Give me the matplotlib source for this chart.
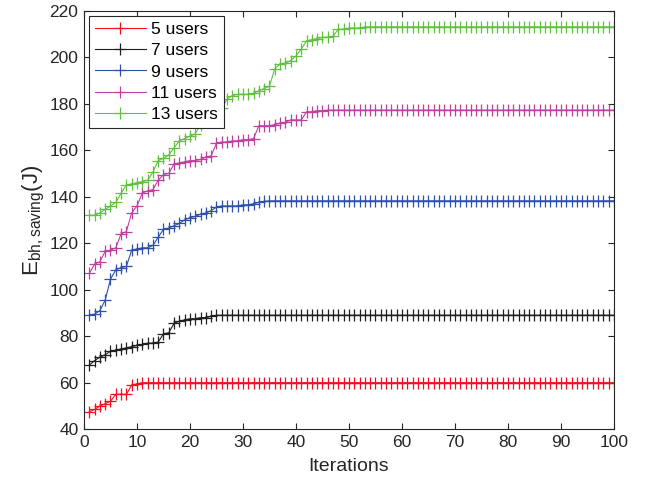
import numpy as np
import matplotlib
matplotlib.use("Agg")
import matplotlib.pyplot as plt

plt.rcParams['font.family'] = ['Liberation Sans', 'DejaVu Sans']
plt.rcParams['mathtext.fontset'] = 'custom'
plt.rcParams['mathtext.rm'] = 'Liberation Sans'
plt.rcParams['mathtext.it'] = 'Liberation Sans:italic'

# Dados
iteracoes = np.arange(1, 101)

users_5 = [47.5, 48.5, 50, 51, 52, 55, 55, 55, 59, 59.5] + [60] * 90

users_7 = [67.5, 69.5, 71, 72, 73.5, 74, 74.5, 75, 75.5, 76,
           76.5, 77, 77, 77.5, 81, 81.5, 85.5, 86.5, 87, 87.5,
           87.5, 88, 88, 88.5, 89] + [89] * 75

users_9 = [89, 89.5, 91, 95.5, 104.5, 108.5, 109.5, 110, 117, 117.5,
           118, 118, 119, 122.5, 126, 126.5, 127.5, 128.5, 130, 131,
           131.5, 132.5, 133, 134, 135.5, 136, 136, 136, 136, 136.5,
           136.5, 137, 137.5, 138] + [138.2] * 66

users_11 = [107, 111, 112, 116.5, 117, 118, 124, 125, 133, 136,
            141.5, 142.5, 143, 147, 149.5, 150, 154, 154.5, 155, 155.5,
            155.5, 156, 157, 157.5, 163, 163.5, 163.5, 164, 164, 164.5,
            164.5, 165, 170.5, 170.5, 170.5, 171, 171.5, 172, 173, 173,
            173, 176.5, 176.5, 177, 177] + [177.2] * 55

users_13 = [132, 132, 133, 134.5, 136, 137.5, 141.5, 145, 145.5, 146,
            146.5, 147, 150.5, 155.5, 156.5, 158, 161, 164, 165, 166,
            167, 171, 173.5, 177, 177.5, 178, 182, 183.5, 184, 184,
            184, 184.5, 185.5, 186.5, 187.5, 195, 197, 197.5, 198.5, 200.5,
            203.5, 207, 207.5, 208, 208.5, 208.5, 209, 212, 212, 212.5,
            212.5, 212.5] + [213] * 48

series = [users_5, users_7, users_9, users_11, users_13]
labels = ["5 users", "7 users", "9 users", "11 users", "13 users"]
cores = ["#F01020", "#202020", "#2F50A8", "#C040A0", "#60C040"]

cinza = "#262626"

fig = plt.figure(figsize=(6.49, 4.83), dpi=100)
ax = fig.add_axes([0.1294, 0.1114, 0.8166, 0.8666])

for y, lab, c in zip(series, labels, cores):
    ax.plot(iteracoes, y, color=c, linewidth=0.8, marker="+",
            markersize=8, markeredgewidth=0.9, label=lab)

ax.set_xlim(0, 100)
ax.set_ylim(40, 220)
ax.set_xticks(np.arange(0, 101, 10))
ax.set_yticks(np.arange(40, 221, 20))
ax.tick_params(direction="in", top=True, right=True, labelsize=12.5,
               colors=cinza, length=4, width=0.8, pad=4)
for s in ax.spines.values():
    s.set_color(cinza)
    s.set_linewidth(0.8)

ax.set_xlabel("Iterations", fontsize=14, color=cinza, labelpad=6)
ax.set_ylabel(r"$\mathrm{E}_{\mathrm{bh,saving}}$(J)", fontsize=16, color=cinza, labelpad=2)

leg = ax.legend(loc="upper left", fontsize=12.5, fancybox=False, framealpha=1,
                edgecolor=cinza, borderpad=0.35, labelspacing=0.35,
                handlelength=2.9, handletextpad=0.3, borderaxespad=0.3)
leg.get_frame().set_linewidth(0.8)

plt.savefig("out.png", dpi=100)
